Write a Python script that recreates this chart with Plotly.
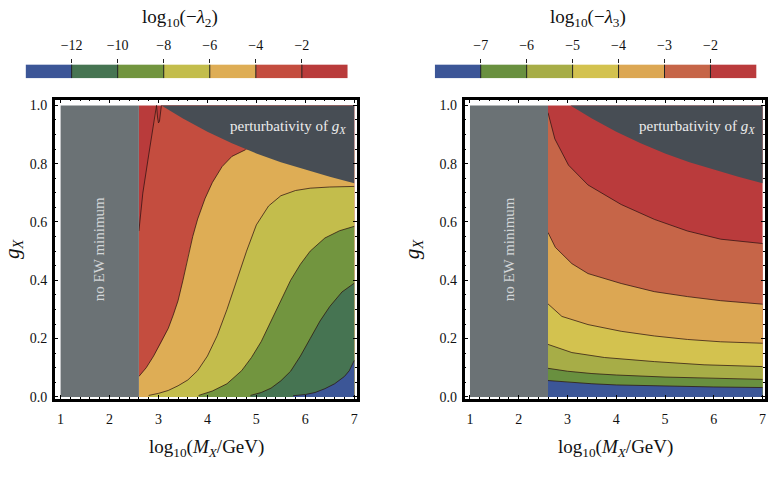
import plotly.graph_objects as go

FONT = "Liberation Serif"

# ---------------- colour-bar levels ----------------
L_LEVELS = [-14, -12, -10, -8, -6, -4, -2, 0]
L_TICKS = [-12, -10, -8, -6, -4, -2]
L_COLORS = ["#3C5697", "#467452", "#72953F", "#C3BD4C", "#DEAD55", "#C44D3F", "#B93B3B"]

R_LEVELS = [-8, -7, -6, -5, -4, -3, -2, -1]
R_TICKS = [-7, -6, -5, -4, -3, -2]
R_COLORS = ["#3C5697", "#69903F", "#A7AD47", "#D3C24F", "#DCA753", "#C66548", "#BA3B3C"]

GREY = "#6B7275"
DARK = "#474D54"

# ---------------- region limits ----------------
X_MIN, X_EW, X_MAX = 1.0, 2.6, 7.0
G_MIN, G_MAX = 0.0, 1.0

# perturbativity bound on g_X
PERT_X = [3.06, 3.5, 4.0, 4.5, 5.0, 5.5, 6.0, 6.5, 7.0]
PERT_G = [1.0, 0.955, 0.91, 0.87, 0.835, 0.805, 0.78, 0.755, 0.733]

# ---------------- left panel contours: log10(-lambda2) ----------------
L_M2_X = [2.60, 2.68, 2.80, 2.90, 2.94, 2.96, 2.98, 3.00, 3.02, 3.04, 3.06]
L_M2_G = [0.569, 0.699, 0.83, 0.94, 0.995, 1.0, 0.96, 0.94, 0.945, 0.98, 1.0]

L_M4_X = [2.60, 2.75, 2.90, 3.05, 3.20, 3.30, 3.40, 3.50, 3.60, 3.70, 3.80, 3.95, 4.10, 4.30, 4.50, 4.78]
L_M4_G = [0.070, 0.10, 0.14, 0.185, 0.235, 0.28, 0.33, 0.40, 0.48, 0.55, 0.61, 0.68, 0.735, 0.79, 0.825, 0.848]

L_M6_X = [2.80, 3.00, 3.20, 3.40, 3.60, 3.80, 4.00, 4.20, 4.40, 4.60, 4.80, 5.00, 5.25, 5.50, 5.80, 6.10, 6.50, 7.00]
L_M6_G = [0.005, 0.012, 0.022, 0.038, 0.058, 0.09, 0.14, 0.21, 0.30, 0.40, 0.50, 0.59, 0.655, 0.69, 0.708, 0.716, 0.72, 0.722]

L_M8_X = [3.82, 4.10, 4.40, 4.70, 4.90, 5.10, 5.30, 5.50, 5.70, 5.90, 6.10, 6.40, 6.70, 7.00]
L_M8_G = [0.005, 0.02, 0.045, 0.09, 0.135, 0.19, 0.26, 0.33, 0.40, 0.455, 0.50, 0.545, 0.57, 0.585]

L_M10_X = [4.88, 5.10, 5.30, 5.50, 5.70, 5.90, 6.10, 6.30, 6.50, 6.75, 7.00]
L_M10_G = [0.005, 0.015, 0.03, 0.055, 0.088, 0.14, 0.20, 0.26, 0.31, 0.36, 0.39]

L_M12_X = [5.75, 6.00, 6.20, 6.40, 6.60, 6.80, 6.90, 7.00]
L_M12_G = [0.004, 0.008, 0.015, 0.028, 0.045, 0.07, 0.09, 0.125]

# ---------------- right panel contours: log10(-lambda3) ----------------
R_M2_X = [2.60, 2.74, 3.02, 3.42, 4.10, 4.78, 5.46, 6.14, 7.00]
R_M2_G = [0.975, 0.885, 0.795, 0.727, 0.660, 0.609, 0.569, 0.541, 0.526]

R_M3_X = [2.60, 2.75, 3.09, 3.42, 4.10, 4.78, 5.46, 6.14, 7.00]
R_M3_G = [0.564, 0.513, 0.457, 0.423, 0.389, 0.361, 0.344, 0.330, 0.318]

R_M4_X = [2.60, 2.885, 3.42, 4.10, 4.78, 5.46, 6.14, 7.00]
R_M4_G = [0.319, 0.276, 0.248, 0.225, 0.209, 0.197, 0.189, 0.184]

R_M5_X = [2.60, 3.09, 3.76, 4.78, 5.80, 7.00]
R_M5_G = [0.180, 0.152, 0.135, 0.121, 0.110, 0.104]

R_M6_X = [2.60, 3.00, 3.50, 4.00, 5.00, 6.00, 7.00]
R_M6_G = [0.098, 0.088, 0.080, 0.075, 0.068, 0.063, 0.060]

R_M7_X = [2.60, 3.00, 3.50, 4.00, 5.00, 6.00, 7.00]
R_M7_G = [0.056, 0.050, 0.045, 0.041, 0.037, 0.034, 0.032]

LINE_COLOR = "rgba(40,15,15,0.8)"


def below_poly(cx, cg):
    xs, gs = list(cx), list(cg)
    if xs[-1] < X_MAX:
        xs.append(X_MAX)
        gs.append(gs[-1])
    xs += [X_MAX, xs[0]]
    gs += [G_MIN, G_MIN]
    return xs, gs


def panel(xa, ya, top_color, layers, lines):
    tr = []
    tr.append(go.Scatter(x=[X_EW, X_MAX, X_MAX, X_EW], y=[G_MIN, G_MIN, G_MAX, G_MAX],
                         fill="toself", fillcolor=top_color, mode="none",
                         xaxis=xa, yaxis=ya, hoverinfo="skip", showlegend=False))
    for (cx, cg), col in layers:
        px, pg = below_poly(cx, cg)
        tr.append(go.Scatter(x=px, y=pg, fill="toself", fillcolor=col, mode="none",
                             xaxis=xa, yaxis=ya, hoverinfo="skip", showlegend=False))
    for cx, cg in lines:
        tr.append(go.Scatter(x=cx, y=cg, mode="lines",
                             line=dict(color=LINE_COLOR, width=0.9),
                             xaxis=xa, yaxis=ya, hoverinfo="skip", showlegend=False))
    tr.append(go.Scatter(x=PERT_X + [X_MAX], y=PERT_G + [G_MAX], fill="toself",
                         fillcolor=DARK, mode="none", xaxis=xa, yaxis=ya,
                         hoverinfo="skip", showlegend=False))
    tr.append(go.Scatter(x=[X_MIN, X_EW, X_EW, X_MIN], y=[G_MIN, G_MIN, G_MAX, G_MAX],
                         fill="toself", fillcolor=GREY, mode="none", xaxis=xa, yaxis=ya,
                         hoverinfo="skip", showlegend=False))
    return tr


def cbar(xa, ya, levels, colors):
    n = len(colors)
    cs = []
    for i, c in enumerate(colors):
        cs += [[i / n, c], [(i + 1) / n, c]]
    tr = [go.Heatmap(x=levels, y=[0, 1], z=[[i + 0.5 for i in range(n)]],
                     colorscale=cs, zmin=0, zmax=n, showscale=False,
                     xaxis=xa, yaxis=ya, hoverinfo="skip")]
    sx, sy = [], []
    for b in levels[1:-1]:
        sx += [b, b, None]
        sy += [0, 1, None]
    tr.append(go.Scatter(x=sx, y=sy, mode="lines", line=dict(color="#222", width=1),
                         xaxis=xa, yaxis=ya, hoverinfo="skip", showlegend=False))
    return tr


fig = go.Figure()

left_layers = [
    ((L_M2_X, L_M2_G), L_COLORS[5]),
    ((L_M4_X, L_M4_G), L_COLORS[4]),
    ((L_M6_X, L_M6_G), L_COLORS[3]),
    ((L_M8_X, L_M8_G), L_COLORS[2]),
    ((L_M10_X, L_M10_G), L_COLORS[1]),
    ((L_M12_X, L_M12_G), L_COLORS[0]),
]
left_lines = [(L_M2_X, L_M2_G), (L_M4_X, L_M4_G), (L_M6_X, L_M6_G),
              (L_M8_X, L_M8_G), (L_M10_X, L_M10_G), (L_M12_X, L_M12_G)]

right_layers = [
    ((R_M2_X, R_M2_G), R_COLORS[5]),
    ((R_M3_X, R_M3_G), R_COLORS[4]),
    ((R_M4_X, R_M4_G), R_COLORS[3]),
    ((R_M5_X, R_M5_G), R_COLORS[2]),
    ((R_M6_X, R_M6_G), R_COLORS[1]),
    ((R_M7_X, R_M7_G), R_COLORS[0]),
]
right_lines = [(R_M2_X, R_M2_G), (R_M3_X, R_M3_G), (R_M4_X, R_M4_G),
               (R_M5_X, R_M5_G), (R_M6_X, R_M6_G), (R_M7_X, R_M7_G)]

for t in panel("x", "y", L_COLORS[6], left_layers, left_lines):
    fig.add_trace(t)
for t in panel("x2", "y2", R_COLORS[6], right_layers, right_lines):
    fig.add_trace(t)
for t in cbar("x3", "y3", L_LEVELS, L_COLORS):
    fig.add_trace(t)
for t in cbar("x4", "y4", R_LEVELS, R_COLORS):
    fig.add_trace(t)

W, H = 776, 488


def px_dom_x(a, b):
    return [a / W, b / W]


def px_dom_y(top, bottom):
    return [(H - bottom) / H, (H - top) / H]


tickfont = dict(family=FONT, size=14, color="#111")
xtitle = "log<sub>10</sub>(<i>M</i><sub><i>X</i></sub>/GeV)"
ytitle = "<i>g</i><sub><i>X</i></sub>"


def main_x(dom, rng, anchor):
    return dict(domain=dom, range=rng, anchor=anchor, tickvals=[1, 2, 3, 4, 5, 6, 7],
                ticks="inside", ticklen=4, tickwidth=1, tickcolor="black",
                showline=True, linewidth=2.5, linecolor="black", mirror="allticks",
                minor=dict(dtick=0.2, ticks="inside", ticklen=2, tickcolor="black", tickwidth=1),
                showgrid=False, zeroline=False, tickfont=tickfont, ticklabelstandoff=5)


def main_y(dom, anchor):
    return dict(domain=dom, range=[-0.008, 1.02], anchor=anchor,
                tickvals=[0, 0.2, 0.4, 0.6, 0.8, 1.0], tickformat=".1f",
                ticks="inside", ticklen=4, tickwidth=1, tickcolor="black",
                showline=True, linewidth=2.5, linecolor="black", mirror="allticks",
                minor=dict(dtick=0.05, ticks="inside", ticklen=2, tickcolor="black", tickwidth=1),
                showgrid=False, zeroline=False, tickfont=tickfont, ticklabelstandoff=2,
                title=dict(text=ytitle, font=dict(family=FONT, size=21, color="#111")))


def cb_x(dom, levels, ticks, anchor):
    return dict(domain=dom, range=[levels[0], levels[-1]], anchor=anchor, side="top",
                tickvals=ticks, ticks="outside", ticklen=4, tickwidth=1, tickcolor="#222",
                showline=False, showgrid=False, zeroline=False, tickfont=tickfont,
                ticklabelstandoff=4)


def cb_y(dom, anchor):
    return dict(domain=dom, range=[0, 1], anchor=anchor, visible=False)


fig.update_layout(
    width=W, height=H, margin=dict(l=0, r=0, t=0, b=0),
    paper_bgcolor="white", plot_bgcolor="white",
    font=dict(family=FONT, color="#111"),
    xaxis=main_x(px_dom_x(52, 356), [0.88, 7.06], "y"),
    yaxis=main_y(px_dom_y(100, 404), "x"),
    xaxis2=main_x(px_dom_x(464, 766), [0.89, 7.05], "y2"),
    yaxis2=main_y(px_dom_y(100, 404), "x2"),
    xaxis3=cb_x(px_dom_x(22.7, 346.7), L_LEVELS, L_TICKS, "y3"),
    yaxis3=cb_y(px_dom_y(64.3, 78.3), "x3"),
    xaxis4=cb_x(px_dom_x(434, 757.3), R_LEVELS, R_TICKS, "y4"),
    yaxis4=cb_y(px_dom_y(64.3, 78.3), "x4"),
)

annots = []
for xr, yr in (("x", "y"), ("x2", "y2")):
    annots.append(dict(x=1.8, y=0.506, xref=xr, yref=yr, text="no EW minimum",
                       textangle=-90, showarrow=False, xanchor="center", yanchor="middle",
                       font=dict(family=FONT, size=15, color="#D3D6D8")))
    annots.append(dict(x=5.65, y=0.926, xref=xr, yref=yr,
                       text="perturbativity of <i>g</i><sub><i>X</i></sub>",
                       showarrow=False, xanchor="center", yanchor="middle",
                       font=dict(family=FONT, size=15, color="#ECECEC")))
# x-axis titles
for cx in (205, 616):
    annots.append(dict(x=cx / W, y=1 - 454 / H, xref="paper", yref="paper",
                       text=xtitle, showarrow=False, xanchor="center", yanchor="middle",
                       font=dict(family=FONT, size=19, color="#111")))
# colour-bar titles
annots.append(dict(x=178 / W, y=1 - 17 / H, xref="paper", yref="paper",
                   text="log<sub>10</sub>(−<i>λ</i><sub>2</sub>)", showarrow=False,
                   xanchor="center", yanchor="middle",
                   font=dict(family=FONT, size=19, color="#111")))
annots.append(dict(x=588 / W, y=1 - 17 / H, xref="paper", yref="paper",
                   text="log<sub>10</sub>(−<i>λ</i><sub>3</sub>)", showarrow=False,
                   xanchor="center", yanchor="middle",
                   font=dict(family=FONT, size=19, color="#111")))
fig.update_layout(annotations=annots)

fig.write_html("out.html")
